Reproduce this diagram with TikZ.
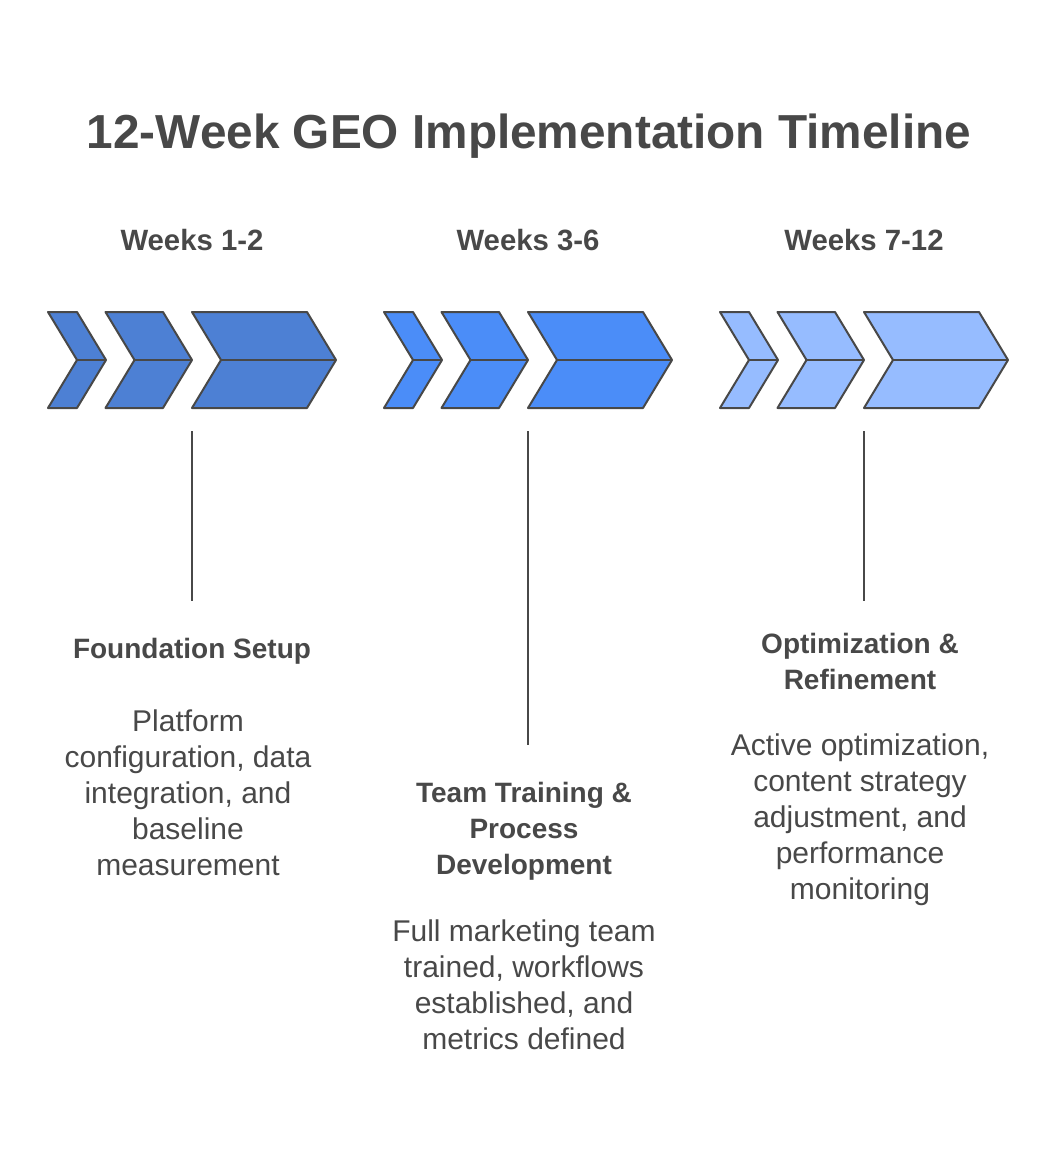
\documentclass[tikz,border=0pt]{standalone}
\usepackage{fontspec}
\setmainfont{Liberation Sans}
\definecolor{inkgray}{HTML}{484848}
\definecolor{blueA}{HTML}{4D80D4}
\definecolor{blueB}{HTML}{4B8DF8}
\definecolor{blueC}{HTML}{96BCFF}
\tikzset{
    chevronbox/.style={draw=inkgray, line width=1.5pt, line join=round},
    leader/.style={draw=inkgray, line width=1pt},
    headtext/.style={text=inkgray, align=center, font=\fontsize{21}{27}\selectfont\bfseries},
    weektext/.style={text=inkgray, anchor=base, font=\fontsize{22}{27}\selectfont\bfseries},
    bodytext/.style={text=inkgray, align=center, font=\fontsize{22.5}{27}\selectfont},
}
\newcommand{\chevronpart}[4]{% left, right, tip, colour
    \draw[chevronbox, fill=#4] (#1,312) -- (#2,312) -- (#3,360) -- (#2,408) -- (#1,408) -- (#1+29,360) -- cycle;
    \draw[chevronbox] (#1+29,360) -- (#3,360);
}
\begin{document}
\begin{tikzpicture}[x=0.75pt, y=-0.75pt]
    \useasboundingbox (0,0) rectangle (1056,1152);

    \node[text=inkgray, font=\fontsize{35.8}{44}\selectfont\bfseries] (title) at (529,136) {12-Week GEO Implementation Timeline};

    % three groups of chevrons
    \foreach \dx/\col in {0/blueA, 336/blueB, 672/blueC} {
        \chevronpart{48+\dx}{77+\dx}{106+\dx}{\col}
        \chevronpart{105.5+\dx}{163+\dx}{192+\dx}{\col}
        \chevronpart{192+\dx}{307+\dx}{336+\dx}{\col}
    }

    \node[weektext] (weeksA) at (192,250) {Weeks 1-2};
    \node[weektext] (weeksB) at (528,250) {Weeks 3-6};
    \node[weektext] (weeksC) at (864,250) {Weeks 7-12};

    \coordinate (topA) at (192,431);
    \coordinate (topB) at (528,431);
    \coordinate (topC) at (864,431);
    \coordinate (endA) at (192,601);
    \coordinate (endB) at (528,745);
    \coordinate (endC) at (864,601);
    \draw[leader] (topA) -- (endA);
    \draw[leader] (topB) -- (endB);
    \draw[leader] (topC) -- (endC);

    \node[headtext] (headA) at (192,651) {Foundation Setup};
    \node[bodytext] (bodyA) at (188,793) {Platform\\configuration, data\\integration, and\\baseline\\measurement};

    \node[headtext] (headB) at (524,831) {Team Training \&\\Process\\Development};
    \node[bodytext] (bodyB) at (524,985) {Full marketing team\\trained, workflows\\established, and\\metrics defined};

    \node[headtext] (headC) at (860,661) {Optimization \&\\Refinement};
    \node[bodytext] (bodyC) at (860,820) {Active optimization,\\content strategy\\adjustment, and\\performance\\monitoring};
\end{tikzpicture}
\end{document}
